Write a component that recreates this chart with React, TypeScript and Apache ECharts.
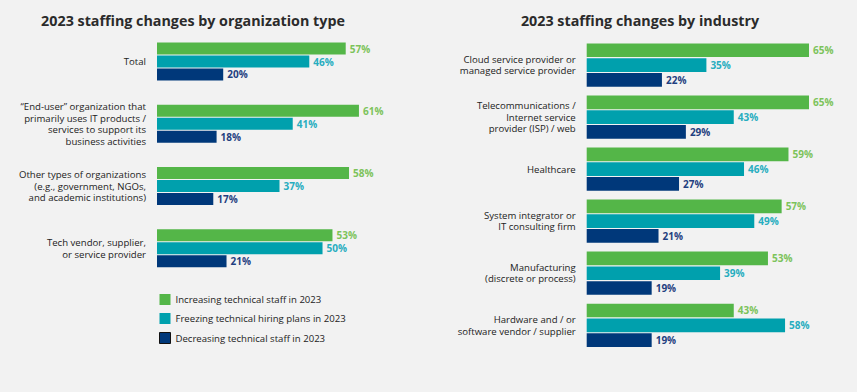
import React, { useEffect, useRef } from "react";
import * as echarts from "echarts";

const orgCategories = [
  "Total",
  "\u201CEnd-user\u201D organization that\nprimarily uses IT products /\nservices to support its\nbusiness activities",
  "Other types of organizations\n(e.g., government, NGOs,\nand academic institutions)",
  "Tech vendor, supplier,\nor service provider",
];
const orgIncreasing = [57, 61, 58, 53];
const orgFreezing = [46, 41, 37, 50];
const orgDecreasing = [20, 18, 17, 21];

const indCategories = [
  "Cloud service provider or\nmanaged service provider",
  "Telecommunications /\nInternet service\nprovider (ISP) / web",
  "Healthcare",
  "System integrator or\nIT consulting firm",
  "Manufacturing\n(discrete or process)",
  "Hardware and / or\nsoftware vendor / supplier",
];
const indIncreasing = [65, 65, 59, 57, 53, 43];
const indFreezing = [35, 43, 46, 49, 39, 58];
const indDecreasing = [22, 29, 27, 21, 19, 19];

const seriesNames = [
  "Increasing technical staff in 2023",
  "Freezing technical hiring plans in 2023",
  "Decreasing technical staff in 2023",
];

const titles = [
  "2023 staffing changes by organization type",
  "2023 staffing changes by industry",
];

const FONT = "'Open Sans', 'Noto Sans', sans-serif";
const barColors = ["#54b648", "#00a0ad", "#00387a"];
const labelColors = ["#7cc35a", "#27adbf", "#1f3f80"];

export default function App() {
  const ref = useRef<HTMLDivElement>(null);
  useEffect(() => {
    document.body.style.margin = "0";
    const chart = echarts.init(ref.current!, null, { renderer: "svg" });
    const mk = (
      name: string,
      data: number[],
      idx: number,
      axis: number,
      barWidth: number
    ) => ({
      type: "bar",
      name,
      data,
      xAxisIndex: axis,
      yAxisIndex: axis,
      barWidth,
      barGap: "8%",
      itemStyle: { color: barColors[idx] },
      label: {
        show: true,
        position: "right",
        distance: 4,
        formatter: "{c}%",
        color: labelColors[idx],
        fontFamily: FONT,
        fontWeight: "bold",
        fontSize: 10,
      },
    });
    const yAxisCommon = {
      type: "category",
      inverse: true,
      axisLine: { show: false },
      axisTick: { show: false },
      splitLine: { show: false },
      axisLabel: {
        margin: 11,
        color: "#222",
        fontFamily: FONT,
        fontSize: 9.6,
        lineHeight: 11.5,
        align: "right",
      },
    };
    const xAxisCommon = {
      type: "value",
      min: 0,
      max: 75,
      show: false,
    };
    chart.setOption({
      animation: false,
      backgroundColor: "#f2f2f2",
      graphic: [
        {
          type: "text",
          x: 193,
          y: 13,
          style: {
            text: titles[0],
            textAlign: "center",
            textVerticalAlign: "top",
            fontFamily: FONT,
            fontWeight: "bold",
            fontSize: 14.3,
            fill: "#2b2b2b",
          },
        },
        {
          type: "text",
          x: 640,
          y: 13,
          style: {
            text: titles[1],
            textAlign: "center",
            textVerticalAlign: "top",
            fontFamily: FONT,
            fontWeight: "bold",
            fontSize: 14.3,
            fill: "#2b2b2b",
          },
        },
      ],
      legend: {
        orient: "vertical",
        left: 159,
        top: 294,
        padding: 0,
        itemWidth: 11,
        itemHeight: 11,
        itemGap: 8,
        icon: "rect",
        textStyle: { fontFamily: FONT, fontSize: 9.6, color: "#222" },
        data: [
          { name: seriesNames[0] },
          { name: seriesNames[1] },
          {
            name: seriesNames[2],
            itemStyle: { borderColor: "#111", borderWidth: 1 },
          },
        ],
      },
      grid: [
        { left: 157, top: 30.4, width: 248.3, height: 249 },
        { left: 586.7, top: 39, width: 256.5, height: 312.3 },
      ],
      xAxis: [
        { ...xAxisCommon, gridIndex: 0 },
        { ...xAxisCommon, gridIndex: 1 },
      ],
      yAxis: [
        { ...yAxisCommon, gridIndex: 0, data: orgCategories },
        { ...yAxisCommon, gridIndex: 1, data: indCategories },
      ],
      series: [
        mk(seriesNames[0], orgIncreasing, 0, 0, 12),
        mk(seriesNames[1], orgFreezing, 1, 0, 12),
        mk(seriesNames[2], orgDecreasing, 2, 0, 12),
        mk(seriesNames[0], indIncreasing, 0, 1, 13.7),
        mk(seriesNames[1], indFreezing, 1, 1, 13.7),
        mk(seriesNames[2], indDecreasing, 2, 1, 13.7),
      ],
    });
    return () => chart.dispose();
  }, []);
  return <div ref={ref} style={{ width: 857, height: 392 }} />;
}
